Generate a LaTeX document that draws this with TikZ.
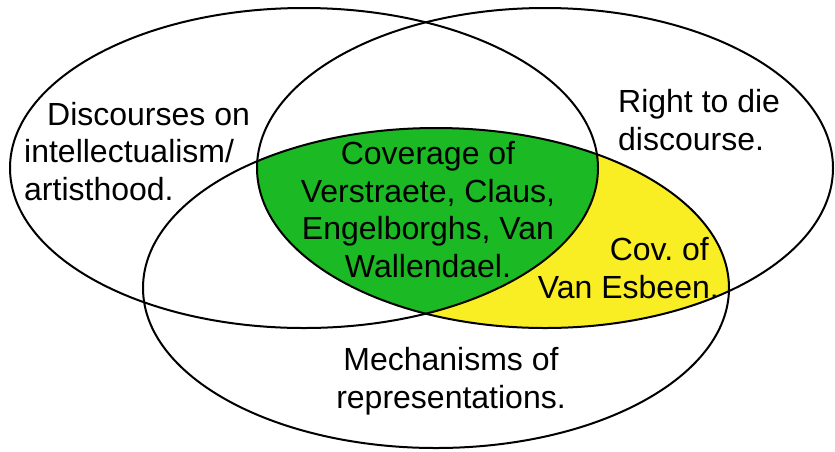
\documentclass[tikz,border=0pt]{standalone}
\usepackage{fontspec}
\setmainfont{Liberation Sans}
\frenchspacing
\definecolor{vgreen}{RGB}{27,185,36}
\definecolor{vyellow}{RGB}{249,237,35}
\begin{document}
\begin{tikzpicture}[x=1pt,y=-1pt,
  setline/.style={line width=2pt,draw=black},
  lbl/.style={inner sep=0pt,font=\fontsize{32}{37.5}\selectfont}]
\useasboundingbox (0,0) rectangle (835,451);
\coordinate (cL) at (304,168);
\coordinate (cR) at (545,168);
\coordinate (cB) at (436,288);
% yellow: R and B
\begin{scope}
  \clip (cR) ellipse [x radius=288pt, y radius=160pt];
  \fill[vyellow] (cB) ellipse [x radius=293pt, y radius=160pt];
\end{scope}
% green: L and R and B
\begin{scope}
  \clip (cR) ellipse [x radius=288pt, y radius=160pt];
  \clip (cL) ellipse [x radius=294pt, y radius=160pt];
  \fill[vgreen] (cB) ellipse [x radius=293pt, y radius=160pt];
\end{scope}
\draw[setline] (cL) ellipse [x radius=294pt, y radius=160pt];
\draw[setline] (cR) ellipse [x radius=288pt, y radius=160pt];
\draw[setline] (cB) ellipse [x radius=293pt, y radius=160pt];
\node[lbl,anchor=base west,align=left] (tL) at (24,200)
  {\hspace*{23pt}Discourses on\\intellectualism/\\artisthood.};
\node[lbl,anchor=base west,align=left] (tR) at (618,150)
  {Right to die\\discourse.};
\node[lbl,anchor=base,align=center] (tG) at (428,277)
  {Coverage of\\Verstraete, Claus,\\Engelborghs, Van\\Wallendael.};
\node[lbl,anchor=base east,align=right] (tY) at (719,298)
  {Cov. of\hspace*{10pt}\\Van Esbeen.};
\node[lbl,anchor=base,align=center] (tB) at (451,408)
  {Mechanisms of\\representations.};
\end{tikzpicture}
\end{document}
